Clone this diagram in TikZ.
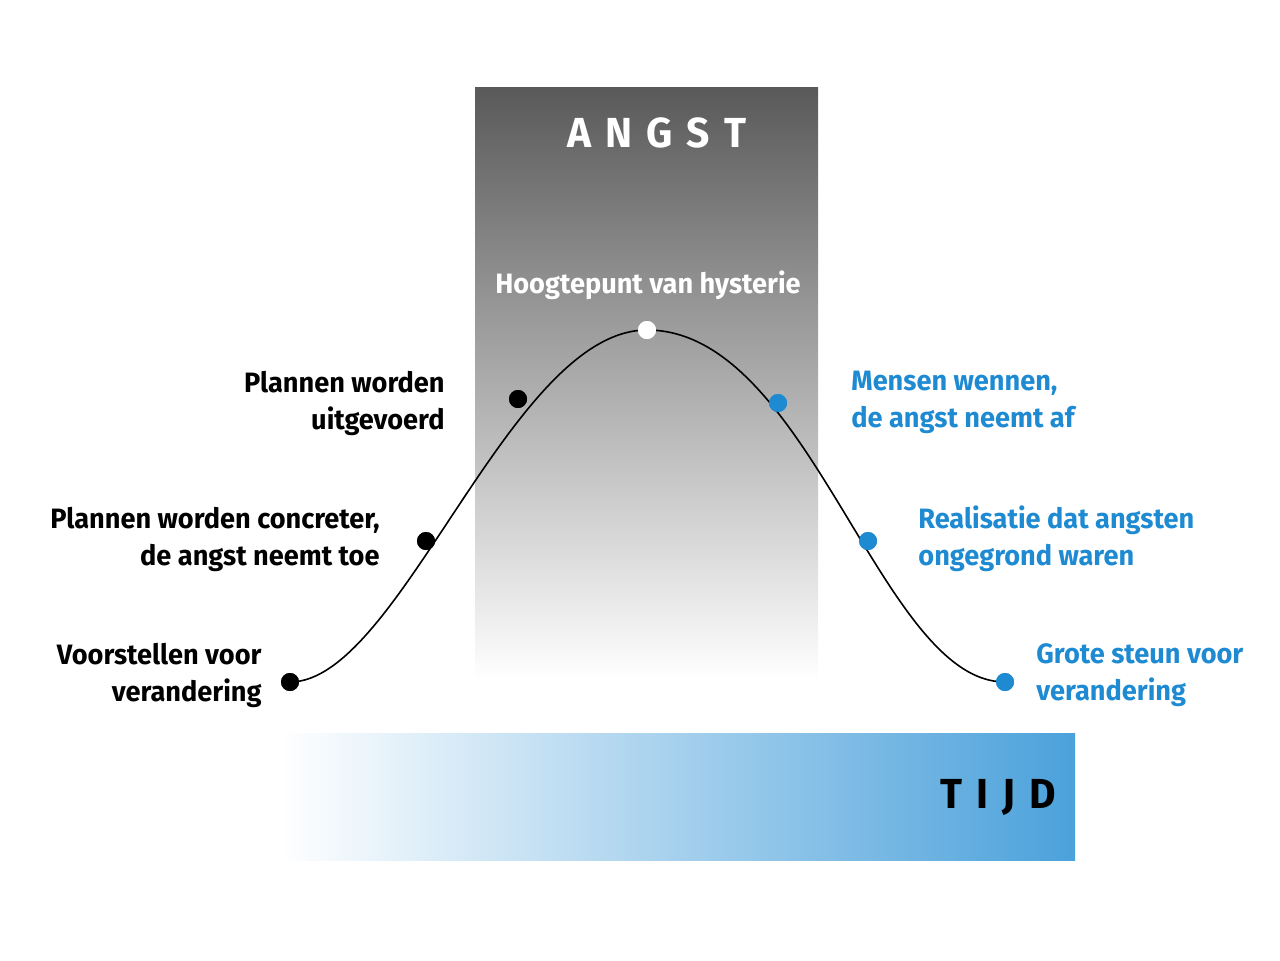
\documentclass[tikz,border=0pt]{standalone}
\usepackage{fontspec}
\setmainfont{Fira Sans}[FakeStretch=0.97]
\begin{document}
\begin{tikzpicture}[x=0.5pt,y=-0.5pt,
  lbl/.style={font=\fontsize{14}{18.5}\selectfont\bfseries, align=#1, inner sep=0pt},
  dot/.style={circle,fill=#1,inner sep=0pt,minimum size=9pt},
  blu/.style={text=myblue}]
\definecolor{myblue}{HTML}{1E8AD2}
\useasboundingbox (0,0) rectangle (1280,960);
\shade[top color=black!65, bottom color=white] (475,87) rectangle (818,680);
\shade[left color=white, right color=myblue!80] (280,733) rectangle (1075,860);
\node[font=\fontsize{21}{24}\selectfont\bfseries, text=white] (angst) at (657,133) {A\,\,N\,\,G\,\,S\,\,T};
\node[font=\fontsize{21}{24}\selectfont\bfseries] (tijd) at (998,797) {T\,\,I\,\,J\,\,D};
\node[dot=black] (p1) at (290,682) {};
\node[dot=black] (p2) at (426,541) {};
\node[dot=black] (p3) at (518,399) {};
\node[dot=white] (p4) at (647,330) {};
\node[dot=myblue] (p5) at (778,403) {};
\node[dot=myblue] (p6) at (868,541) {};
\node[dot=myblue] (p7) at (1005,682) {};
\begin{scope}[on background layer/.style={}]
\draw[thick] (p1.center) .. controls (400,682) and (510,330) .. (p4.center)
  .. controls (810,330) and (880,682) .. (p7.center);
\end{scope}
\foreach \n/\c in {p1/black,p2/black,p3/black,p4/white,p5/myblue,p6/myblue,p7/myblue}
  \fill[\c] (\n) circle (4.5pt);
\node[lbl=right, anchor=east] (t1) at (262,675) {Voorstellen voor\\verandering};
\node[lbl=right, anchor=east] (t2) at (380,539) {Plannen worden concreter,\\de angst neemt toe};
\node[lbl=right, anchor=east] (t3) at (445,403) {Plannen worden\\uitgevoerd};
\node[lbl=center, text=white] (t4) at (648,285) {Hoogtepunt van hysterie};
\node[lbl=left, anchor=west, blu] (t5) at (851,402) {Mensen wennen,\\de angst neemt af};
\node[lbl=left, anchor=west, blu] (t6) at (918,539) {Realisatie dat angsten\\ongegrond waren};
\node[lbl=left, anchor=west, blu] (t7) at (1036,675) {Grote steun voor\\verandering};
\end{tikzpicture}
\end{document}
